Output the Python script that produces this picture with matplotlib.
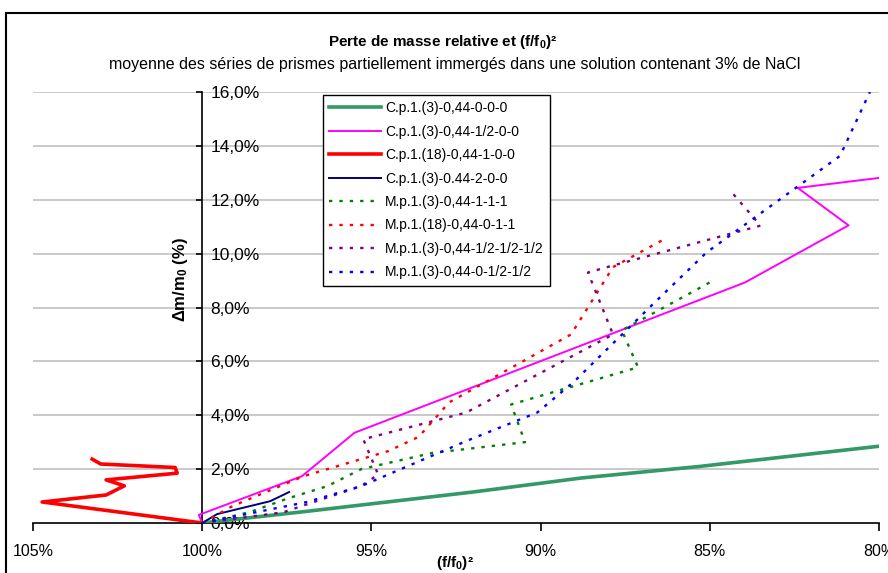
import matplotlib
matplotlib.use('Agg')
import matplotlib.pyplot as plt
from matplotlib.patches import Rectangle

plt.rcParams['font.family'] = ['Liberation Sans', 'DejaVu Sans']
plt.rcParams['mathtext.fontset'] = 'custom'
plt.rcParams['mathtext.rm'] = 'Liberation Sans'
plt.rcParams['mathtext.bf'] = 'Liberation Sans:bold'
plt.rcParams['mathtext.it'] = 'Liberation Sans:italic'

# données : (f/f0)² en %, perte de masse en %
cp_0_x = [100, 97.0, 92.0, 88.8, 85.3, 80.0]
cp_0_y = [0, 0.42, 1.15, 1.67, 2.1, 2.85]

cp_half_x = [100, 100.1, 97.05, 95.5, 83.96, 80.9, 82.4, 80.0]
cp_half_y = [0, 0.3, 1.74, 3.35, 8.93, 11.05, 12.44, 12.81]

cp18_1_x = [100, 104.73, 102.84, 102.3, 102.84, 100.74, 100.8, 103.0, 103.25]
cp18_1_y = [0, 0.78, 1.04, 1.38, 1.6, 1.85, 2.06, 2.19, 2.37]

cp_2_x = [100, 99.56, 97.99, 97.43]
cp_2_y = [0, 0.33, 0.81, 1.15]

mp_111_x = [100, 98.6, 97.5, 96.3, 95.3, 93.2, 90.46, 90.87, 87.12, 87.6, 84.9]
mp_111_y = [0, 0.4, 0.9, 1.37, 2.0, 2.6, 3.0, 4.4, 5.78, 7.15, 9.0]

mp18_011_x = [100, 99.1, 97.0, 94.5, 93.6, 92.7, 89.1, 87.86, 86.4]
mp18_011_y = [0, 0.63, 1.74, 2.67, 3.2, 4.48, 7.0, 9.5, 10.5]

mp_hhh_x = [100, 97.6, 95.3, 94.8, 95.24, 92.2, 87.86, 88.6, 87.86, 83.5, 84.3]
mp_hhh_y = [0, 0.4, 1.37, 1.8, 3.11, 4.1, 7.0, 9.3, 9.56, 11.04, 12.2]

mp_0hh_x = [100, 96.9, 95.3, 92.2, 90.1, 89.0, 86.7, 85.1, 81.15, 80.27]
mp_0hh_y = [0, 0.78, 1.37, 3.04, 4.1, 5.26, 8.1, 10.04, 13.63, 16.0]

x_ticks = [105, 100, 95, 90, 85, 80]
x_labels = ['105%', '100%', '95%', '90%', '85%', '80%']
y_ticks = [0, 2, 4, 6, 8, 10, 12, 14, 16]
y_labels = ['0,0%', '2,0%', '4,0%', '6,0%', '8,0%', '10,0%', '12,0%', '14,0%', '16,0%']

fig = plt.figure(figsize=(8.88, 5.73), dpi=100)
# cadre de la zone du graphique (coupé à droite et en bas)
fig.patches.append(Rectangle((6 / 888, -0.1), 1.2, 1 - 13 / 573 + 0.1, transform=fig.transFigure,
                             fill=False, edgecolor='black', linewidth=1.5))

ax = fig.add_axes([33 / 888, 50 / 573, 846 / 888, 431 / 573])
ax.set_xlim(105, 80)
ax.set_ylim(0, 16)

dot = (0, (1.4, 3))
ax.plot(cp_0_x, cp_0_y, color='#339966', lw=2.6, label='C.p.1.(3)-0,44-0-0-0', zorder=3)
ax.plot(cp_half_x, cp_half_y, color='#FF00FF', lw=1.4, label='C.p.1.(3)-0,44-1/2-0-0', zorder=3)
ax.plot(cp18_1_x, cp18_1_y, color='#FF0000', lw=2.6, label='C.p.1.(18)-0,44-1-0-0', zorder=3)
ax.plot(cp_2_x, cp_2_y, color='#000080', lw=1.4, label='C.p.1.(3)-0.44-2-0-0', zorder=3)
ax.plot(mp_111_x, mp_111_y, color='#008000', lw=1.7, ls=dot, label='M.p.1.(3)-0,44-1-1-1', zorder=3)
ax.plot(mp18_011_x, mp18_011_y, color='#FF0000', lw=1.7, ls=dot, label='M.p.1.(18)-0,44-0-1-1', zorder=3)
ax.plot(mp_hhh_x, mp_hhh_y, color='#800080', lw=1.7, ls=dot, label='M.p.1.(3)-0,44-1/2-1/2-1/2', zorder=3)
ax.plot(mp_0hh_x, mp_0hh_y, color='#0000FF', lw=1.7, ls=dot, label='M.p.1.(3)-0,44-0-1/2-1/2', zorder=3)

# grille horizontale
for v in y_ticks[1:]:
    ax.axhline(v, color='#C0C0C0', lw=1.2, zorder=1)

# axes : l'axe des y coupe en x = 100 %
ax.spines['left'].set_visible(False)
ax.spines['top'].set_visible(False)
ax.spines['right'].set_position(('data', 100))
ax.spines['right'].set_linewidth(1.2)
ax.spines['bottom'].set_linewidth(1.2)
ax.yaxis.tick_right()
ax.set_yticks(y_ticks)
ax.set_yticklabels(y_labels)
ax.tick_params(axis='y', direction='in', length=4, width=1.2, pad=6, labelsize=12.5)
ax.set_xticks(x_ticks)
ax.set_xticklabels(x_labels)
ax.tick_params(axis='x', direction='out', length=6, width=1.2, pad=9, labelsize=11.5)
ax.set_facecolor('none')

ax.text((180 - 33) / 846, (523 - 280) / 431, u'Δm/m$_\\mathbf{0}$ (%)', rotation=90, weight='bold',
        size=12, ha='center', va='center', transform=ax.transAxes)
fig.text(455 / 888, 1 - 563 / 573, u'(f/f$_\\mathbf{0}$)²', weight='bold', size=11,
         ha='center', va='center')
fig.text(443 / 888, 1 - 42 / 573, u'Perte de masse relative et (f/f$_\\mathbf{0}$)²', weight='bold',
         size=11, ha='center', va='center')
fig.text(455 / 888, 1 - 64 / 573,
         u'moyenne des séries de prismes partiellement immergés dans une solution contenant 3% de NaCl',
         size=11.5, ha='center', va='center')

leg = ax.legend(loc='upper left', bbox_to_anchor=(323 / 888, 1 - 95 / 573), bbox_transform=fig.transFigure,
                borderaxespad=0, fontsize=10, handlelength=3.7, handletextpad=0.3, labelspacing=0.68,
                borderpad=0.45, fancybox=False, framealpha=1)
leg.get_frame().set_edgecolor('black')
leg.get_frame().set_linewidth(1.0)

plt.savefig('out.png', dpi=100)
